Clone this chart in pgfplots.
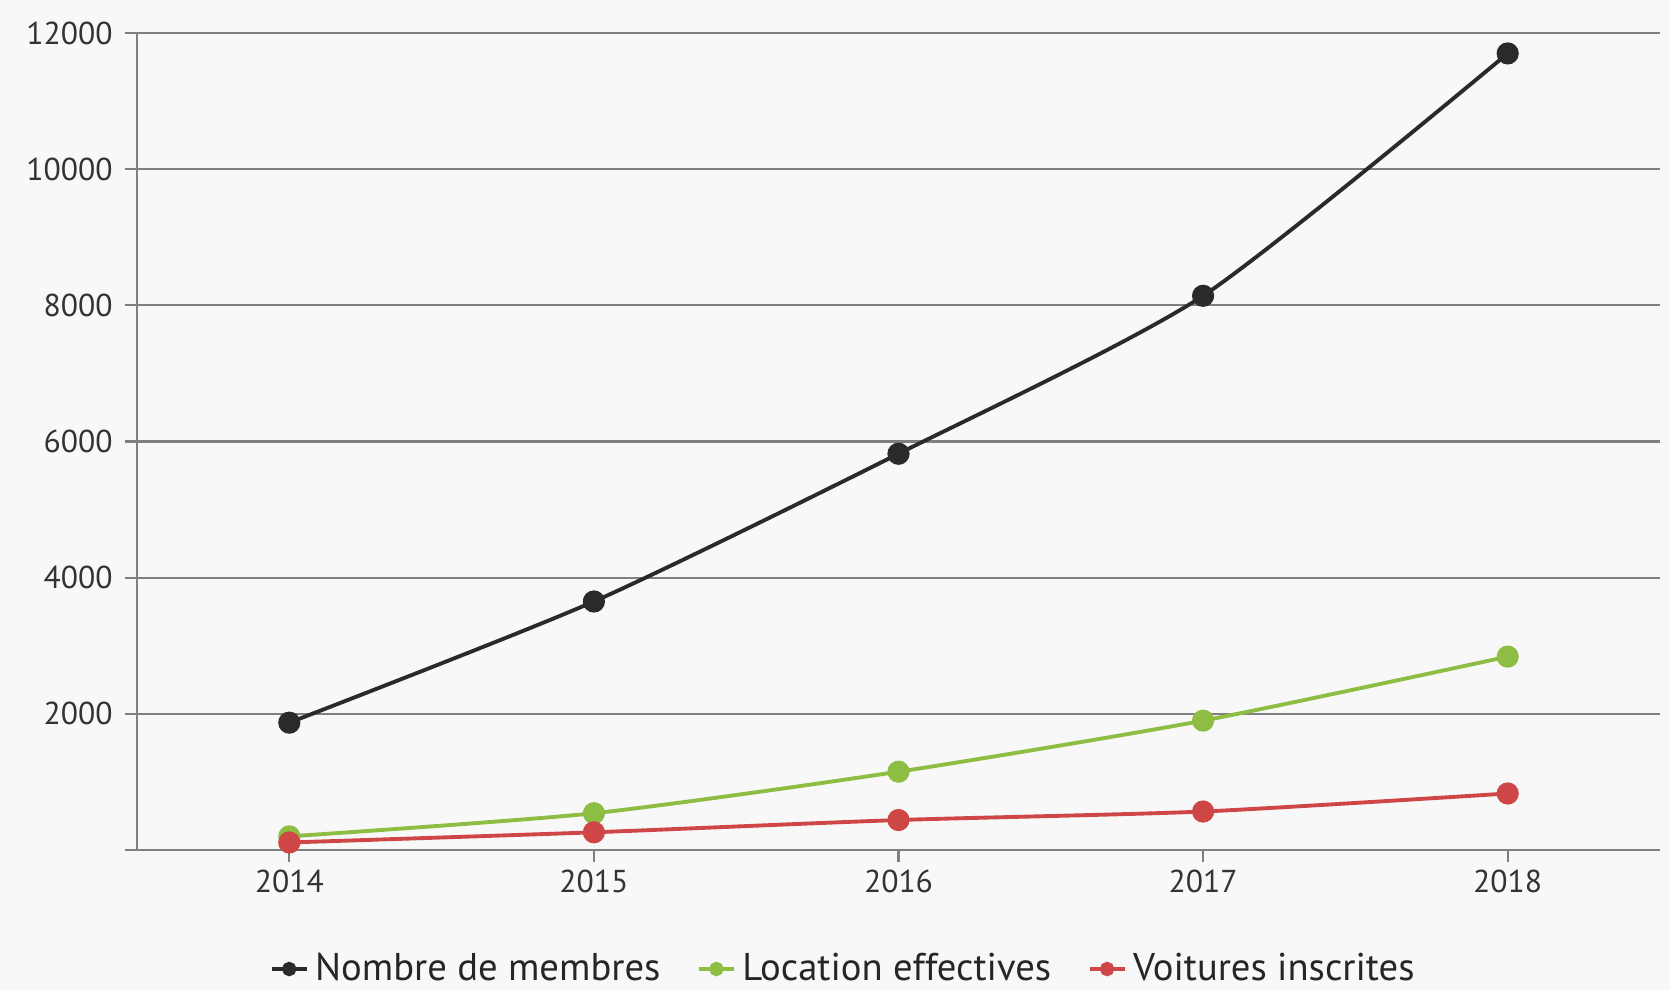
\documentclass[border=0pt]{standalone}
\usepackage{pgfplots}
\pgfplotsset{compat=1.18}
\usepackage{fontspec}
\setmainfont{PT Sans}
\definecolor{bg}{HTML}{F8F8F8}
\definecolor{cblack}{HTML}{2A2A2A}
\definecolor{cgreen}{HTML}{8DBE43}
\definecolor{cred}{HTML}{CE4646}
\definecolor{cgrid}{HTML}{7F7F7F}
\begin{document}
\begin{tikzpicture}
\fill[bg] (0,0) rectangle (167mm,99mm);
\useasboundingbox (0,0) rectangle (167mm,99mm);
\begin{axis}[
 at={(13.7mm,14mm)}, anchor=south west,
 scale only axis, width=152.3mm, height=81.7mm,
 xmin=2013.5, xmax=2018.5, ymin=0, ymax=12000,
 scaled x ticks=false, scaled y ticks=false,
 axis x line*=bottom, axis y line*=left,
 axis line style={cgrid, line width=0.6pt, -},
 xtick={2014,2015,2016,2017,2018}, xticklabels={2014,2015,2016,2017,2018},
 ytick={0,2000,4000,6000,8000,10000,12000}, yticklabels={,2000,4000,6000,8000,10000,12000},
 tick align=outside, major tick length=1.2mm,
 tick style={cgrid, line width=0.6pt},
 ymajorgrids, grid style={cgrid, line width=0.6pt},
 tick label style={font=\fontsize{9}{10}\selectfont, text=black!80},
 xticklabel style={yshift=1.2pt},
 legend style={at={(0.4655,-0.1457)}, anchor=center, draw=none, fill=none,
   legend columns=3, font=\fontsize{11}{12}\selectfont, text=black!85,
   /tikz/every even column/.append style={column sep=3mm}},
 legend image code/.code={\draw[mark repeat=2,mark phase=2,#1,mark size=1.5pt] plot coordinates {(0cm,0cm)(0.17cm,0cm)(0.34cm,0cm)};},
]
\addplot[cblack, line width=1.1pt, smooth, tension=0.4, mark=*, mark size=2.6pt] coordinates {(2014,1870) (2015,3650) (2016,5820) (2017,8140) (2018,11700)};
\addlegendentry{Nombre de membres}
\addplot[cgreen, line width=1.1pt, smooth, tension=0.4, mark=*, mark size=2.6pt] coordinates {(2014,200) (2015,540) (2016,1150) (2017,1900) (2018,2840)};
\addlegendentry{Location effectives}
\addplot[cred, line width=1.1pt, smooth, tension=0.4, mark=*, mark size=2.6pt] coordinates {(2014,110) (2015,260) (2016,440) (2017,565) (2018,830)};
\addlegendentry{Voitures inscrites}
\end{axis}
\end{tikzpicture}
\end{document}
